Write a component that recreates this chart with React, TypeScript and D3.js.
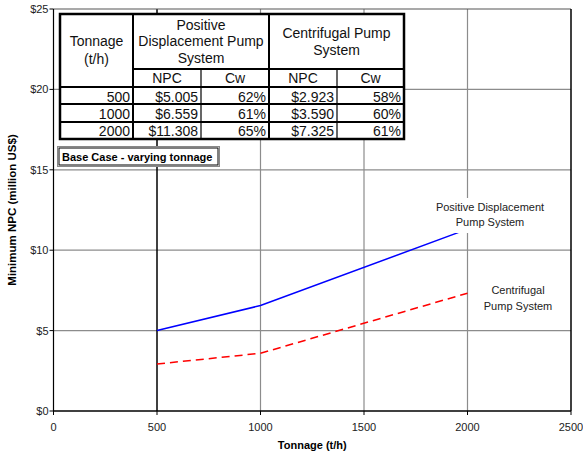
import * as d3 from 'd3';

const tonnages = [500, 1000, 2000];
const pdNpc = [5.005, 6.559, 11.308];
const pdCw = [62, 61, 65];
const cpNpc = [2.923, 3.59, 7.325];
const cpCw = [58, 60, 61];
const xTicks = [0, 500, 1000, 1500, 2000, 2500];
const yTicks = [0, 5, 10, 15, 20, 25];

const W = 583;
const H = 456;
const font = 'Liberation Sans, Arial, sans-serif';

export default function App() {
  const x = d3.scaleLinear().domain([0, 2500]).range([53.5, 571]);
  const y = d3.scaleLinear().domain([0, 25]).range([411, 9]);

  const line = d3
    .line<number>()
    .x((_, i) => x(tonnages[i]))
    .y((d) => y(d));

  // table layout
  const cols = [60, 133, 201, 269, 337, 404];
  const rows = [14, 69, 87, 104, 122, 139];
  const rowBase = [101.5, 119, 136];

  return (
    <svg
      width={W}
      height={H}
      style={{ position: 'absolute', left: 0, top: 0, background: '#fff' }}
      fontFamily={font}
    >
      <rect width={W} height={H} fill="#fff" />

      {/* grid */}
      {yTicks.slice(1, -1).map((t) => (
        <line key={'gy' + t} x1={x(0)} x2={x(2500)} y1={y(t)} y2={y(t)} stroke="#8c8c8c" strokeWidth={1.2} />
      ))}
      {xTicks.slice(1, -1).map((t) => (
        <line
          key={'gx' + t}
          x1={x(t)}
          x2={x(t)}
          y1={y(25)}
          y2={y(0)}
          stroke={t === 500 ? '#000' : '#8c8c8c'}
          strokeWidth={t === 500 ? 1.5 : 1.2}
        />
      ))}
      <line x1={x(0)} x2={x(2500)} y1={y(25)} y2={y(25)} stroke="#555" strokeWidth={1.2} />
      <line x1={x(2500)} x2={x(2500)} y1={y(25)} y2={y(0)} stroke="#000" strokeWidth={1.5} />

      {/* axes */}
      <line x1={x(0)} x2={x(0)} y1={y(25)} y2={y(0)} stroke="#000" strokeWidth={1.2} />
      <line x1={x(0)} x2={x(2500)} y1={y(0)} y2={y(0)} stroke="#000" strokeWidth={1.5} />
      {yTicks.map((t) => (
        <g key={'yt' + t}>
          <line x1={x(0) - 4} x2={x(0)} y1={y(t)} y2={y(t)} stroke="#000" />
          <text x={x(0) - 5} y={y(t) + 4} fontSize={11} textAnchor="end" fill="#222">
            ${t}
          </text>
        </g>
      ))}
      {xTicks.map((t) => (
        <g key={'xt' + t}>
          <line x1={x(t)} x2={x(t)} y1={y(0)} y2={y(0) + 4} stroke="#000" />
          <text x={x(t)} y={y(0) + 20} fontSize={11} textAnchor="middle" fill="#222">
            {t}
          </text>
        </g>
      ))}
      <text x={(x(0) + x(2500)) / 2} y={449} fontSize={11} fontWeight="bold" textAnchor="middle">
        Tonnage (t/h)
      </text>
      <text
        transform={`translate(16,${(y(0) + y(25)) / 2}) rotate(-90)`}
        fontSize={11.5}
        fontWeight="bold"
        textAnchor="middle"
      >
        Minimum NPC (million US$)
      </text>

      {/* series */}
      <path d={line(pdNpc) ?? ''} fill="none" stroke="#0000ff" strokeWidth={1.5} />
      <path d={line(cpNpc) ?? ''} fill="none" stroke="#ff0000" strokeWidth={1.5} strokeDasharray="8,5" />

      {/* series labels */}
      <rect x={430} y={198} width={122} height={35} fill="#fff" />
      <text x={490} y={211} fontSize={11} textAnchor="middle" fill="#222">
        Positive Displacement
      </text>
      <text x={490} y={226} fontSize={11} textAnchor="middle" fill="#222">
        Pump System
      </text>
      <text x={518} y={294} fontSize={11} textAnchor="middle" fill="#222">
        Centrifugal
      </text>
      <text x={518} y={310} fontSize={11} textAnchor="middle" fill="#222">
        Pump System
      </text>

      {/* base case box */}
      <rect x={57.5} y={146.5} width={162} height={20} fill="#fff" stroke="#888" strokeWidth={1} />
      <rect x={59} y={148} width={159} height={17} fill="none" stroke="#000" strokeWidth={1} />
      <text x={62} y={161} fontSize={11} fontWeight="bold">
        Base Case - varying tonnage
      </text>

      {/* table */}
      <rect x={cols[0]} y={rows[0]} width={cols[5] - cols[0]} height={rows[5] - rows[0]} fill="#fff" />
      <g stroke="#000">
        <line x1={cols[1]} x2={cols[5]} y1={rows[1]} y2={rows[1]} strokeWidth={2} />
        {rows.slice(2, 5).map((r) => (
          <line key={'r' + r} x1={cols[0]} x2={cols[5]} y1={r} y2={r} strokeWidth={2} />
        ))}
        <line x1={cols[1]} x2={cols[1]} y1={rows[0]} y2={rows[5]} strokeWidth={2} />
        <line x1={cols[3]} x2={cols[3]} y1={rows[0]} y2={rows[5]} strokeWidth={2} />
        <line x1={cols[2]} x2={cols[2]} y1={rows[1]} y2={rows[5]} strokeWidth={1.2} />
        <line x1={cols[4]} x2={cols[4]} y1={rows[1]} y2={rows[5]} strokeWidth={1.2} />
        <rect
          x={cols[0]}
          y={rows[0]}
          width={cols[5] - cols[0]}
          height={rows[5] - rows[0]}
          fill="none"
          strokeWidth={2.5}
        />
      </g>
      <g fontSize={14} fill="#111">
        <text x={(cols[0] + cols[1]) / 2} y={46} textAnchor="middle">Tonnage</text>
        <text x={(cols[0] + cols[1]) / 2} y={64} textAnchor="middle">(t/h)</text>
        <text x={(cols[1] + cols[3]) / 2} y={29.5} textAnchor="middle">Positive</text>
        <text x={(cols[1] + cols[3]) / 2} y={46} textAnchor="middle">Displacement Pump</text>
        <text x={(cols[1] + cols[3]) / 2} y={62.5} textAnchor="middle">System</text>
        <text x={(cols[3] + cols[5]) / 2} y={38} textAnchor="middle">Centrifugal Pump</text>
        <text x={(cols[3] + cols[5]) / 2} y={55} textAnchor="middle">System</text>
        {['NPC', 'Cw', 'NPC', 'Cw'].map((h, i) => (
          <text key={'h' + i} x={(cols[i + 1] + cols[i + 2]) / 2} y={83} textAnchor="middle">
            {h}
          </text>
        ))}
        {tonnages.map((t, i) => (
          <g key={'row' + t} textAnchor="end">
            <text x={cols[1] - 3} y={rowBase[i]}>{t}</text>
            <text x={cols[2] - 3} y={rowBase[i]}>${pdNpc[i].toFixed(3)}</text>
            <text x={cols[3] - 3} y={rowBase[i]}>{pdCw[i]}%</text>
            <text x={cols[4] - 3} y={rowBase[i]}>${cpNpc[i].toFixed(3)}</text>
            <text x={cols[5] - 3} y={rowBase[i]}>{cpCw[i]}%</text>
          </g>
        ))}
      </g>
    </svg>
  );
}
